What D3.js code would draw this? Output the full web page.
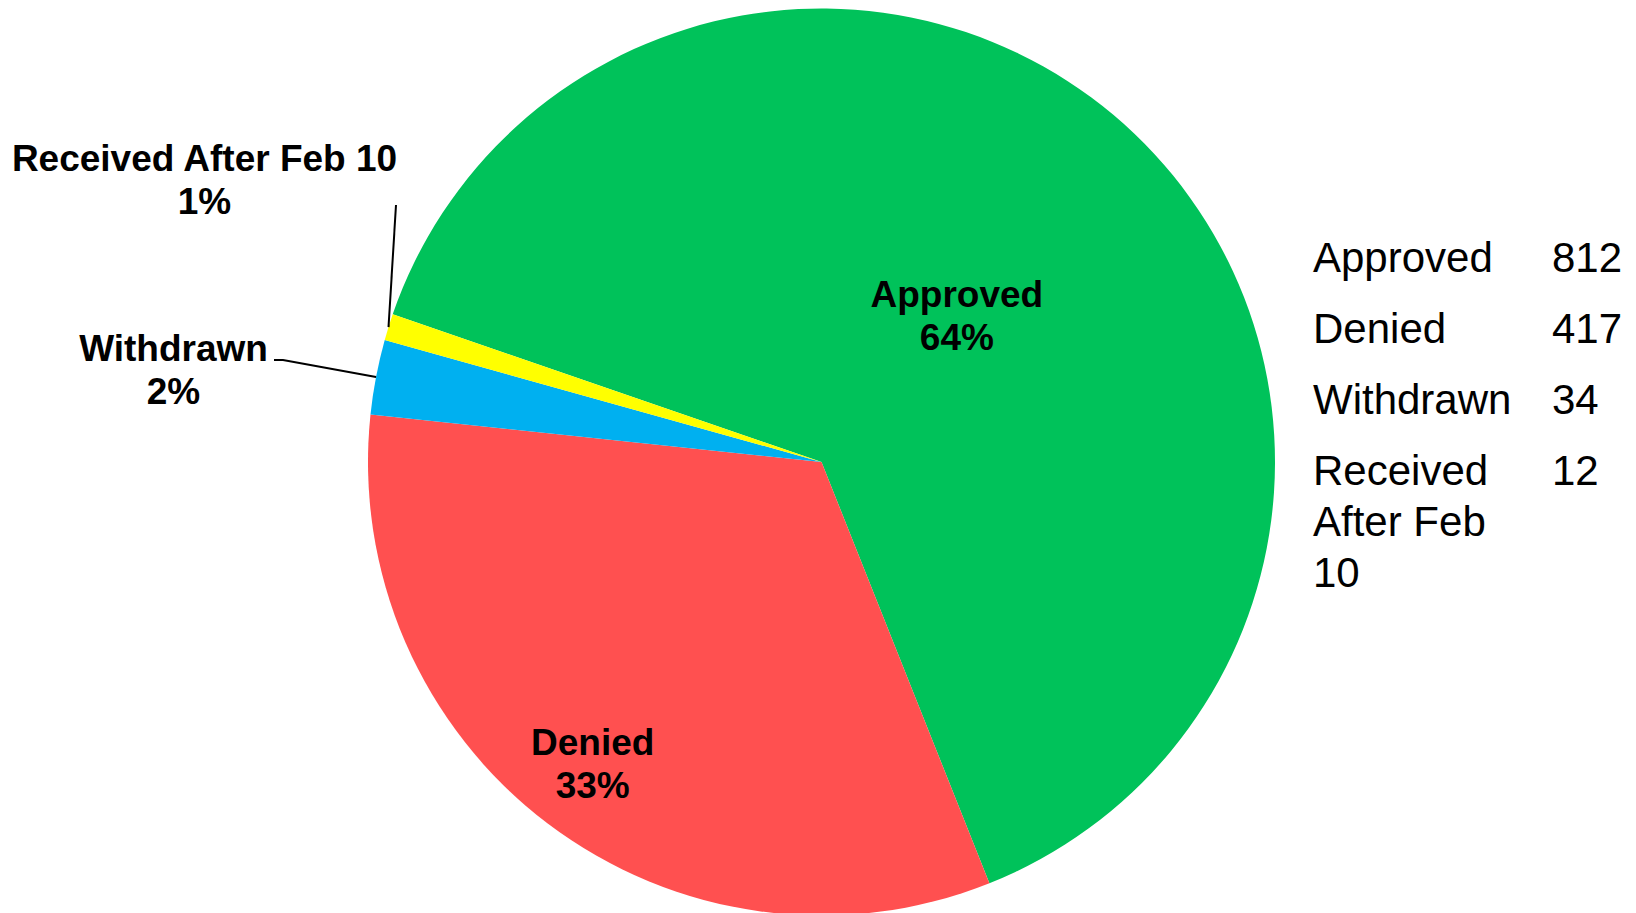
<!DOCTYPE html>
<html>
<head>
<meta charset="utf-8">
<script src="https://cdn.jsdelivr.net/npm/d3@7"></script>
<style>
  body { margin: 0; background: #fff; }
  svg { display: block; font-family: "Liberation Sans", Arial, sans-serif; }
</style>
</head>
<body>
<div id="chart-area"></div>
<script>
// Data
var categories = ["Approved", "Denied", "Withdrawn", "Received After Feb 10"]
var counts = [812, 417, 34, 12]
var pctLabels = ["64%", "33%", "2%", "1%"]
var colors = ["#00C25A", "#FF5050", "#00B0F0", "#FFFF00"]
// legend table rows (label cell wraps)
var tableLines = [["Approved"], ["Denied"], ["Withdrawn"], ["Received", "After Feb", "10"]]

var width = 1636, height = 913
var cx = 821.5, cy = 462, radius = 453.5

var svg = d3.select("#chart-area").append("svg")
    .attr("width", width)
    .attr("height", height)

var data = categories.map((c, i) => ({name: c, value: counts[i], pct: pctLabels[i], color: colors[i]}))

// Pie layout, first slice starts at ~289 degrees clockwise from top
var start = 289 * Math.PI / 180
var pie = d3.pie()
    .value(d => d.value)
    .sort(null)
    .startAngle(start)
    .endAngle(start + 2 * Math.PI)

var arcs = pie(data)

var arc = d3.arc()
    .innerRadius(0)
    .outerRadius(radius)

var g = svg.append("g")
    .attr("transform", "translate(" + cx + "," + cy + ")")

g.selectAll("path.slice")
    .data(arcs)
    .enter()
    .append("path")
        .attr("class", "slice")
        .attr("d", arc)
        .attr("fill", d => d.data.color)

// point on a circle of radius r at the slice's mid angle
const midPoint = (d, r) => {
    let a = (d.startAngle + d.endAngle) / 2
    return [r * Math.sin(a), -r * Math.cos(a)]
}

// Inside labels (Approved, Denied) - radius per slice, like Excel best fit
var insideR = [202, 379]
var insideDx = [-4, 0]
// Outside labels: text anchor point (relative to center) and leader elbow
var outsideText = {2: [-648, -101], 3: [-617, -291]}
var leaderElbow = {2: [[-547.5, -102], [-538.5, -102]], 3: [[-425.5, -257]]}

var fontSize = 37, lineGap = 43

arcs.forEach((d, i) => {
    let pos
    if (i < 2) {
        let p = midPoint(d, insideR[i])
        pos = [p[0] + insideDx[i], p[1] - 9]
    } else {
        pos = outsideText[i]
        // leader line
        let edge = midPoint(d, radius)
        let pts = leaderElbow[i].concat([edge])
        g.append("path")
            .attr("d", d3.line()(pts))
            .attr("fill", "none")
            .attr("stroke", "#000")
            .attr("stroke-width", 2)
    }
    let t = g.append("text")
        .attr("text-anchor", "middle")
        .attr("font-size", fontSize + "px")
        .attr("font-weight", "bold")
        .attr("fill", "#000")
    t.append("tspan")
        .attr("x", pos[0])
        .attr("y", pos[1])
        .text(d.data.name)
    t.append("tspan")
        .attr("x", pos[0])
        .attr("y", pos[1] + lineGap)
        .text(d.data.pct)
})

// Table on the right
var tableX = 1313, valueX = 1552, rowStart = 272, rowGap = 71, wrapGap = 51
var table = svg.append("g")
    .attr("font-size", "42px")
    .attr("fill", "#000")

data.forEach((d, i) => {
    let y = rowStart + i * rowGap
    tableLines[i].forEach((line, j) => {
        table.append("text")
            .attr("x", tableX)
            .attr("y", y + j * wrapGap)
            .text(line)
    })
    table.append("text")
        .attr("x", valueX)
        .attr("y", y)
        .text(d.value)
})
</script>
</body>
</html>
